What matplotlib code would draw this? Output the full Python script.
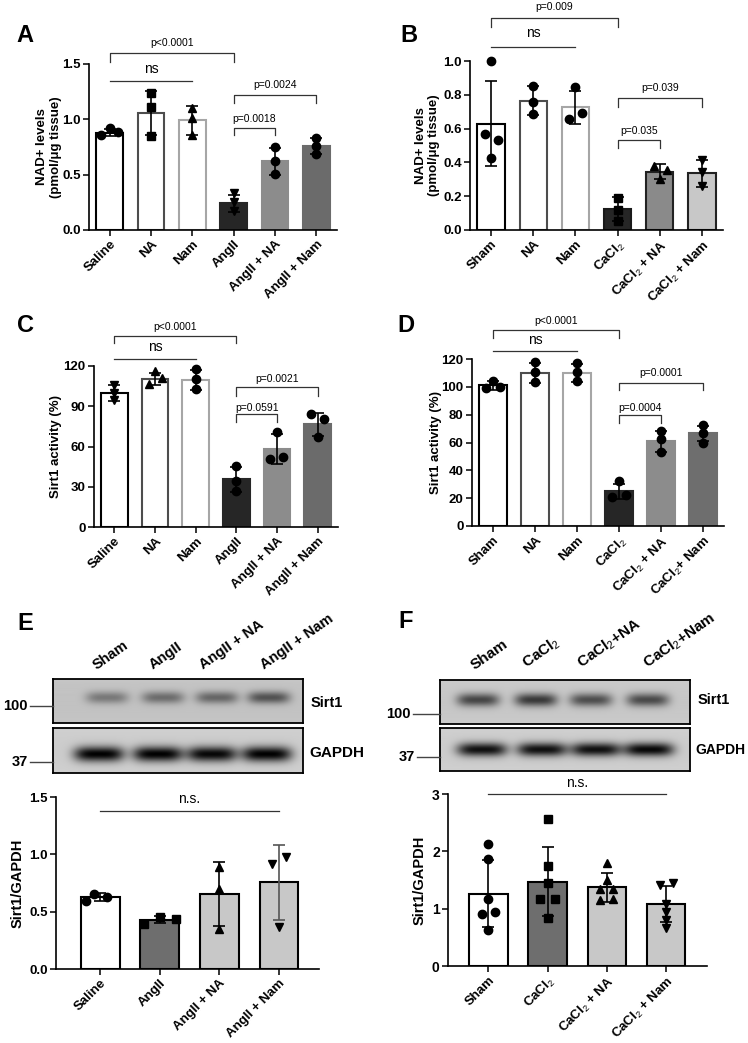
import numpy as np
import matplotlib.pyplot as plt

plt.rcParams['font.family'] = ['Liberation Sans', 'DejaVu Sans']
plt.rcParams['mathtext.fontset'] = 'custom'
plt.rcParams['mathtext.rm'] = 'Liberation Sans'
plt.rcParams['mathtext.it'] = 'Liberation Sans:italic'
plt.rcParams['mathtext.bf'] = 'Liberation Sans:bold'

# ---- data ----
ang_labels = ['Saline', 'NA', 'Nam', 'AngII', 'AngII + NA', 'AngII + Nam']
ca_labels_b = ['Sham', 'NA', 'Nam', 'CaCl$_2$', 'CaCl$_2$ + NA', 'CaCl$_2$ + Nam']
ca_labels_d = ['Sham', 'NA', 'Nam', 'CaCl$_2$', 'CaCl$_2$ + NA', 'CaCl$_2$+ Nam']
e_labels = ['Saline', 'AngII', 'AngII + NA', 'AngII + Nam']
f_labels = ['Sham', 'CaCl$_2$', 'CaCl$_2$ + NA', 'CaCl$_2$ + Nam']
e_lanes = ['Sham', 'AngII', 'AngII + NA', 'AngII + Nam']
f_lanes = ['Sham', 'CaCl$_2$', 'CaCl$_2$+NA', 'CaCl$_2$+Nam']

# A: NAD+ levels, AngII model
a_mean = [0.88, 1.06, 0.99, 0.24, 0.62, 0.76]
a_sd = [0.03, 0.20, 0.135, 0.075, 0.125, 0.07]
a_pts = [[0.86, 0.92, 0.89], [1.24, 1.11, 0.85], [1.10, 1.01, 0.86],
         [0.33, 0.25, 0.17], [0.75, 0.62, 0.51], [0.83, 0.76, 0.69]]
# B: NAD+ levels, CaCl2 model
b_mean = [0.63, 0.765, 0.725, 0.125, 0.345, 0.335]
b_sd = [0.25, 0.085, 0.10, 0.072, 0.045, 0.078]
b_pts = [[1.0, 0.57, 0.53, 0.425], [0.85, 0.76, 0.685], [0.845, 0.655, 0.69],
         [0.19, 0.12, 0.055], [0.38, 0.355, 0.30], [0.415, 0.345, 0.26]]
# C: Sirt1 activity, AngII model
c_mean = [100, 110.5, 109.5, 35.5, 58, 76.5]
c_sd = [6, 4.5, 7.5, 9.5, 11, 8.5]
c_pts = [[106, 100, 95], [116, 106.5, 111], [117.5, 110, 102.5],
         [45.5, 34.5, 27], [70.5, 50.5, 52.5], [84, 80.5, 67]]
# D: Sirt1 activity, CaCl2 model
d_mean = [101, 110, 110, 25, 61, 66.5]
d_sd = [3, 7, 6.5, 5.5, 7.5, 5.5]
d_pts = [[104.5, 99, 100], [117.5, 110.5, 103.5], [117, 110.5, 104],
         [32, 20.5, 22.5], [68.5, 62.5, 53], [72.5, 67, 60]]
# E: Sirt1/GAPDH, AngII model
e_mean = [0.63, 0.43, 0.655, 0.755]
e_sd = [0.035, 0.03, 0.28, 0.325]
e_pts = [[0.65, 0.59, 0.63], [0.39, 0.45, 0.44], [0.89, 0.70, 0.35], [0.92, 0.98, 0.37]]
# F: Sirt1/GAPDH, CaCl2 model
f_mean = [1.26, 1.47, 1.37, 1.08]
f_sd = [0.585, 0.605, 0.245, 0.315]
f_pts = [[2.12, 1.87, 1.17, 0.90, 0.945, 0.625],
         [2.56, 1.75, 1.45, 1.16, 1.16, 0.83],
         [1.80, 1.50, 1.34, 1.35, 1.15, 1.16],
         [1.42, 1.45, 1.08, 0.95, 0.81, 0.665]]

# blot band darkness per lane
e_sirt1 = [0.36, 0.42, 0.45, 0.55]
e_gapdh = [0.95, 0.95, 0.92, 0.95]
f_sirt1 = [0.62, 0.68, 0.58, 0.60]
f_gapdh = [0.88, 0.88, 0.88, 0.92]

# ---- layout / style (not data) ----
a_dx = [[-0.2, 0, 0.2], [0, 0, 0], [0, 0, 0], [0, 0, 0], [0, 0, 0], [0, 0, 0]]
b_dx = [[0, -0.14, 0.16, 0], [0, 0, 0], [0, -0.15, 0.16], [0, 0, 0], [-0.13, 0.17, 0], [0, 0, 0]]
c_dx = [[0, 0, 0], [0, -0.15, 0.16], [0, 0, 0], [0, 0, 0], [0, -0.17, 0.15], [-0.17, 0.16, 0]]
d_dx = [[0, -0.16, 0.16], [0, 0, 0], [0, 0, 0], [0, -0.16, 0.16], [0, 0, 0], [0, 0, 0]]
e_dx = [[-0.1, -0.23, 0.12], [-0.27, 0, 0.28], [0, 0, 0], [-0.12, 0.12, 0]]
f_dx = [[0, 0, 0, -0.11, 0.11, 0], [0, 0, 0, -0.12, 0.12, 0],
        [0, 0, -0.11, 0.11, -0.11, 0.11], [-0.11, 0.11, 0, 0, 0, 0]]

W, H = 748, 1043
fig = plt.figure(figsize=(W / 100, H / 100), dpi=100)
FS = 9.5


def ax_px(l, t, r, b):
    return fig.add_axes([l / W, 1 - b / H, (r - l) / W, (b - t) / H])


def style(ax, ylim, yticks, fmt, labels, ylabel, lab_x, xlim, yfs=FS, lfs=FS):
    ax.set_ylim(*ylim)
    ax.set_xlim(*xlim)
    ax.set_yticks(yticks)
    ax.set_yticklabels([fmt.format(v) for v in yticks], fontweight='bold', fontsize=yfs)
    ax.set_xticks(range(len(labels)))
    ax.set_xticklabels(labels, rotation=45, ha='right', rotation_mode='anchor',
                       fontweight='bold', fontsize=FS)
    for s in ['top', 'right']:
        ax.spines[s].set_visible(False)
    for s in ['left', 'bottom']:
        ax.spines[s].set_linewidth(1.2)
    ax.tick_params(direction='out', length=4, width=1.1, pad=2)
    ax.set_ylabel(ylabel, fontweight='bold', fontsize=lfs, linespacing=1.15)
    ax.yaxis.set_label_coords(lab_x, 0.5)
    ax.patch.set_alpha(0)


def draw_bars(ax, mean, sd, pts, dx, faces, edges, markers, ecols, width=0.65):
    x = np.arange(len(mean))
    ax.bar(x, mean, width=width, color=faces, edgecolor=edges, linewidth=1.5, zorder=2)
    for i in x:
        ax.errorbar(i, mean[i], yerr=sd[i], fmt='none', ecolor=ecols[i],
                    elinewidth=1.2, capsize=4.5, capthick=1.2, zorder=3)
        ax.plot(i + np.array(dx[i]), pts[i], markers[i], color='k', ms=6,
                ls='none', zorder=4, clip_on=False)


def bracket(ax, x1, x2, yl, yh, text, ty, fs=7.5):
    ax.plot([x1, x1, x2, x2], [yl, yh, yh, yl], color='#333333', lw=0.9, clip_on=False)
    ax.text((x1 + x2) / 2, ty, text, ha='center', va='center', fontsize=fs, clip_on=False)


def nsline(ax, x1, x2, y, text, ty, fs=10):
    ax.plot([x1, x2], [y, y], color='#333333', lw=0.9, clip_on=False)
    ax.text((x1 + x2) / 2, ty, text, ha='center', va='center', fontsize=fs, clip_on=False)


ang_faces = ['white', 'white', 'white', '#262626', '#8c8c8c', '#6b6b6b']
ang_edges = ['black', '#4d4d4d', '#a6a6a6', '#262626', '#8c8c8c', '#6b6b6b']
blk = ['black'] * 6

# A
ax = ax_px(89, 64, 337, 230)
draw_bars(ax, a_mean, a_sd, a_pts, a_dx, ang_faces, ang_edges, ['o', 's', '^', 'v', 'o', 'o'], blk)
style(ax, (0, 1.5), [0, 0.5, 1.0, 1.5], '{:.1f}', ang_labels,
      'NAD+ levels\n(pmol/\u03bcg tissue)', -0.11, (-0.5, 5.5))
bracket(ax, 0, 3, 1.52, 1.60, 'p<0.0001', 1.69)
nsline(ax, 0, 2, 1.35, 'ns', 1.455)
bracket(ax, 3, 5, 1.15, 1.22, 'p=0.0024', 1.31)
bracket(ax, 3, 4, 0.86, 0.92, 'p=0.0018', 1.00)

# B
ax = ax_px(470, 61, 723, 230)
draw_bars(ax, b_mean, b_sd, b_pts, b_dx,
          ['white', 'white', 'white', '#262626', '#8a8a8a', '#c8c8c8'],
          ['black', '#4d4d4d', '#a6a6a6', '#1a1a1a', '#222222', '#222222'],
          ['o', 'o', 'o', 's', '^', 'v'], blk)
style(ax, (0, 1.0), [0, 0.2, 0.4, 0.6, 0.8, 1.0], '{:.1f}', ca_labels_b,
      'NAD+ levels\n(pmol/\u03bcg tissue)', -0.117, (-0.5, 5.5))
bracket(ax, 0, 3, 1.20, 1.254, 'p=0.009', 1.32)
nsline(ax, 0, 2, 1.083, 'ns', 1.166)
bracket(ax, 3, 5, 0.73, 0.78, 'p=0.039', 0.84)
bracket(ax, 3, 4, 0.485, 0.53, 'p=0.035', 0.585)

# C
ax = ax_px(94, 366, 338, 527)
draw_bars(ax, c_mean, c_sd, c_pts, c_dx, ang_faces, ang_edges, ['v', '^', 'o', 'o', 'o', 'o'], blk)
style(ax, (0, 120), [0, 30, 60, 90, 120], '{:d}', ang_labels,
      'Sirt1 activity (%)', -0.131, (-0.5, 5.5))
bracket(ax, 0, 3, 137, 142, 'p<0.0001', 149)
nsline(ax, 0, 2, 125, 'ns', 134)
bracket(ax, 3, 5, 98, 104, 'p=0.0021', 110)
bracket(ax, 3, 4, 78, 84, 'p=0.0591', 89)

# D
ax = ax_px(472, 359, 724, 526)
draw_bars(ax, d_mean, d_sd, d_pts, d_dx,
          ['white', 'white', 'white', '#262626', '#8c8c8c', '#6e6e6e'],
          ['black', '#4d4d4d', '#a6a6a6', '#262626', '#8c8c8c', '#6e6e6e'],
          ['o'] * 6, blk)
style(ax, (0, 120), [0, 20, 40, 60, 80, 100, 120], '{:d}', ca_labels_d,
      'Sirt1 activity (%)', -0.119, (-0.5, 5.5))
bracket(ax, 0, 3, 135, 141, 'p<0.0001', 147)
nsline(ax, 0, 2, 126, 'ns', 134)
bracket(ax, 3, 5, 98, 103, 'p=0.0001', 110)
bracket(ax, 3, 4, 74, 80, 'p=0.0004', 85)

# E bars
wb_faces = ['white', '#6e6e6e', '#c8c8c8', '#c8c8c8']
ax = ax_px(56, 797, 319, 969)
draw_bars(ax, e_mean, e_sd, e_pts, e_dx, wb_faces, ['black'] * 4,
          ['o', 's', '^', 'v'], ['black', 'black', 'black', '#555555'])
style(ax, (0, 1.5), [0, 0.5, 1.0, 1.5], '{:.1f}', e_labels,
      'Sirt1/GAPDH', -0.118, (-0.74, 3.67), yfs=9.5, lfs=10.5)
nsline(ax, 0, 3, 1.38, 'n.s.', 1.48)

# F bars
ax = ax_px(448, 794, 707, 966)
draw_bars(ax, f_mean, f_sd, f_pts, f_dx, wb_faces, ['black'] * 4,
          ['o', 's', '^', 'v'], ['black'] * 4)
style(ax, (0, 3), [0, 1, 2, 3], '{:d}', f_labels,
      'Sirt1/GAPDH', -0.081, (-0.68, 3.69), yfs=10, lfs=10.5)
nsline(ax, 0, 3, 3.0, 'n.s.', 3.2)


# ---- western blots ----
def blot(box, centers, yc, dark, wx, wy, bg):
    ax = ax_px(*box)
    nx, ny = 500, 90
    xx = np.linspace(0, 1, nx)[None, :]
    yy = np.linspace(0, 1, ny)[:, None]
    img = np.full((ny, nx), bg) - 0.04 * np.exp(-((yy - 0.5) / 0.8) ** 2)
    for c, d in zip(centers, dark):
        img -= d * bg * np.exp(-np.abs((xx - c) / wx) ** 4) * np.exp(-((yy - yc) / wy) ** 2)
    ax.imshow(img, cmap='gray', vmin=0, vmax=1, aspect='auto',
              extent=[0, 1, 0, 1], origin='upper', interpolation='bilinear')
    ax.set_xticks([])
    ax.set_yticks([])
    for s in ax.spines.values():
        s.set_linewidth(1.3)
    return ax


blot((53, 679, 303, 723), [0.216, 0.44, 0.656, 0.864], 0.42, e_sirt1, 0.085, 0.14, 0.80)
blot((53, 728, 303, 773), [0.184, 0.42, 0.636, 0.856], 0.58, e_gapdh, 0.1, 0.17, 0.84)
blot((440, 680, 690, 724), [0.152, 0.384, 0.604, 0.832], 0.45, f_sirt1, 0.085, 0.15, 0.82)
blot((440, 728, 690, 771), [0.168, 0.408, 0.624, 0.836], 0.50, f_gapdh, 0.1, 0.16, 0.84)


def fx(px):
    return px / W


def fy(py):
    return 1 - py / H


# marker weights & labels
for x0, x1, y, t in [(30, 53, 706, '100'), (30, 53, 762, '37'),
                     (413, 440, 714, '100'), (417, 440, 757, '37')]:
    fig.add_artist(plt.Line2D([fx(x0), fx(x1)], [fy(y), fy(y)], color='#444444', lw=1.0))
    fig.text(fx(x0 - 2), fy(y), t, ha='right', va='center', fontsize=10.5, fontweight='bold')
fig.text(fx(311), fy(703), 'Sirt1', ha='left', va='center', fontsize=10.5, fontweight='bold')
fig.text(fx(309), fy(753), 'GAPDH', ha='left', va='center', fontsize=11, fontweight='bold')
fig.text(fx(698), fy(700), 'Sirt1', ha='left', va='center', fontsize=10.5, fontweight='bold')
fig.text(fx(695), fy(750), 'GAPDH', ha='left', va='center', fontsize=10, fontweight='bold')

for x, t in zip([98, 155, 205, 266], e_lanes):
    fig.text(fx(x), fy(672), t, rotation=35, ha='left', va='bottom',
             rotation_mode='anchor', fontsize=10.5, fontweight='bold')
for x, t in zip([476, 529, 584, 650], f_lanes):
    fig.text(fx(x), fy(672), t, rotation=35, ha='left', va='bottom',
             rotation_mode='anchor', fontsize=11, fontweight='bold')

# panel letters
for x, y, t in [(25, 36, 'A'), (409, 36, 'B'), (25, 325, 'C'),
                (406, 325, 'D'), (25, 623, 'E'), (406, 622, 'F')]:
    fig.text(fx(x), fy(y), t, ha='center', va='center', fontsize=17, fontweight='bold')

fig.savefig('out.png', dpi=100, facecolor='white')
